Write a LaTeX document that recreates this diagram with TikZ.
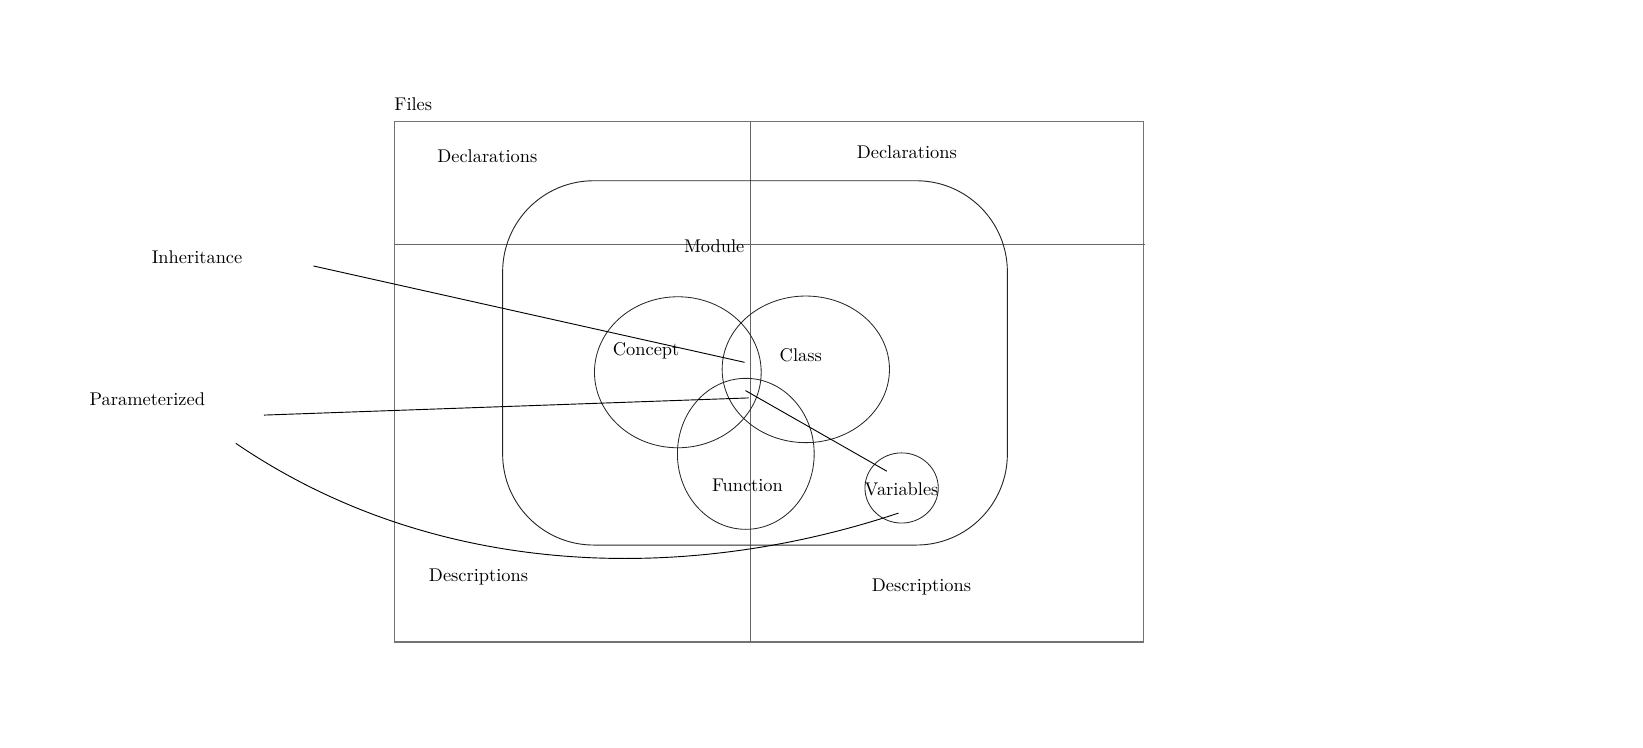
\documentclass[tikz,border=0pt]{standalone}
\usetikzlibrary{shapes.geometric}
\begin{document}
\begin{tikzpicture}[x=0.02cm,y=-0.02cm,
  lbl/.style={inner sep=0pt,font=\fontsize{10}{12}\selectfont},
  frameline/.style={draw=black!55,line width=0.75pt},
  gridline/.style={draw=black!60,line width=0.45pt},
  blob/.style={draw=black!85,line width=0.45pt,ellipse,inner sep=0pt},
  conn/.style={draw=black,line width=0.5pt}]
\useasboundingbox (0,0) rectangle (1569,713.5);
% files frame
\draw[frameline] (377,116.2) rectangle (1092,613);
\draw[gridline] (716.6,116.2) -- (716.6,613);
\draw[gridline] (377,233) -- (1093,233);
\node[lbl] (files) at (394.7,99.3) {Files};
\node[lbl] (declL) at (465.4,149) {Declarations};
\node[lbl] (declR) at (866,145.8) {Declarations};
\node[lbl] (descL) at (457,550.8) {Descriptions};
\node[lbl] (descR) at (880,561) {Descriptions};
% module
\draw[draw=black!85,line width=0.5pt,rounded corners=1.74cm] (480,172.6) rectangle (962,520.5);
\node[lbl] (module) at (682,235.6) {Module};
% sets
\node[blob,minimum width=159.2*0.02cm,minimum height=144.2*0.02cm] (concept) at (647.3,355.5) {};
\node[blob,minimum width=159.8*0.02cm,minimum height=140*0.02cm] (class) at (769.5,352.7) {};
\node[blob,minimum width=130.6*0.02cm,minimum height=144.2*0.02cm] (function) at (712.2,433.4) {};
\node[blob,minimum width=70*0.02cm,minimum height=67*0.02cm] (variables) at (861,466) {};
\node[lbl] (conceptL) at (617,335) {Concept};
\node[lbl] (classL) at (764.7,339) {Class};
\node[lbl] (functionL) at (713.8,463.2) {Function};
\node[lbl] (variablesL) at (861,467) {Variables};
% relation labels
\node[lbl] (inh) at (188.2,246) {Inheritance};
\node[lbl] (par) at (140.7,381) {Parameterized};
% connector end points
\coordinate (inhA) at (299.3,254);
\coordinate (inhB) at (711,346);
\coordinate (parA) at (252.1,396.4);
\coordinate (parB) at (715,380);
\coordinate (varA) at (711.9,373);
\coordinate (varB) at (846.9,450);
\coordinate (curA) at (225.2,423.4);
\coordinate (curB) at (858,490);
\draw[conn] (inhA) -- (inhB);
\draw[conn] (parA) -- (parB);
\draw[conn] (varA) -- (varB);
\draw[conn] (curA) .. controls (420,556) and (660,556) .. (curB);
\end{tikzpicture}
\end{document}
